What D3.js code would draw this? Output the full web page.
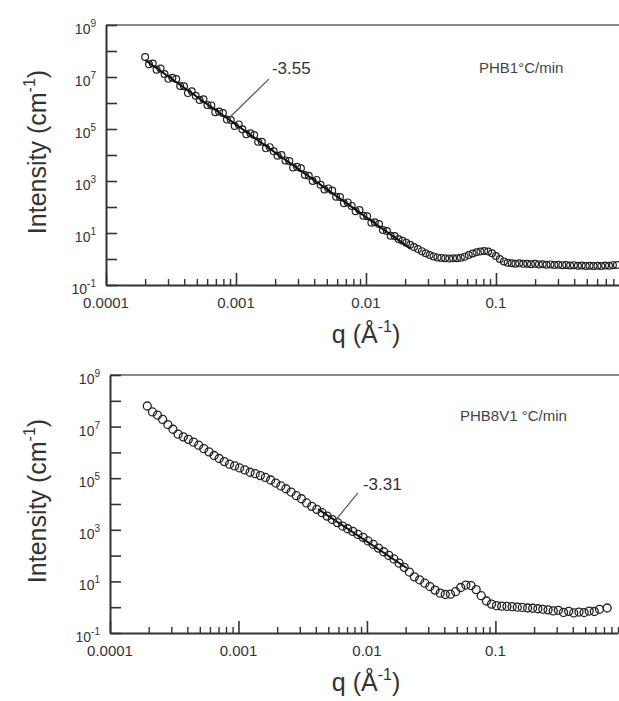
<!DOCTYPE html>
<html>
<head>
<meta charset="utf-8">
<script src="https://cdn.jsdelivr.net/npm/d3@7"></script>
<style>
  body { margin: 0; background: #fff; }
  svg { display: block; }
  text { font-family: "Liberation Sans", Arial, sans-serif; fill: #333; }
</style>
</head>
<body>
<div id="chart"></div>
<script>
// PHB 1°C/min (top panel)
const qTop = [
  0.000200, 0.000214, 0.000229, 0.000245, 0.000263, 0.000282, 0.000302, 0.000324, 0.000347, 0.000372,
  0.000398, 0.000427, 0.000457, 0.000490, 0.000525, 0.000562, 0.000603, 0.000646, 0.000692, 0.000741,
  0.000794, 0.000851, 0.000912, 0.000977, 0.00105, 0.00112, 0.00120, 0.00129, 0.00138, 0.00148,
  0.00158, 0.00170, 0.00182, 0.00195, 0.00209, 0.00224, 0.00240, 0.00257, 0.00275, 0.00295,
  0.00316, 0.00339, 0.00363, 0.00389, 0.00417, 0.00447, 0.00479, 0.00513, 0.00550, 0.00589,
  0.00631, 0.00676, 0.00724, 0.00776, 0.00832, 0.00891, 0.00955, 0.0102, 0.0110, 0.0117,
  0.0126, 0.0135, 0.0145, 0.0155, 0.0166, 0.0178, 0.0191, 0.0204, 0.0219, 0.0234,
  0.0251, 0.0269, 0.0288, 0.0309, 0.0331, 0.0355, 0.0380, 0.0407, 0.0437, 0.0468,
  0.0501, 0.0537, 0.0575, 0.0617, 0.0661, 0.0708, 0.0759, 0.0813, 0.0871, 0.0933,
  0.100, 0.107, 0.115, 0.123, 0.132, 0.141, 0.151, 0.162, 0.174, 0.186,
  0.200, 0.214, 0.229, 0.245, 0.263, 0.282, 0.302, 0.324, 0.347, 0.372,
  0.398, 0.427, 0.457, 0.490, 0.525, 0.562, 0.603, 0.646, 0.692, 0.741,
  0.794, 0.851
];
const iTop = [
  5.9e7, 3.1e7, 3.3e7, 1.9e7, 2.1e7, 1.3e7, 8.5e6, 9.3e6, 8.3e6, 4.5e6,
  4.4e6, 2.4e6, 2.8e6, 1.9e6, 1.3e6, 1.4e6, 8.3e5, 8.1e5, 4.4e5, 4.7e5,
  4.1e5, 2.3e5, 2.2e5, 1.3e5, 1.5e5, 9.8e4, 6.3e4, 6.9e4, 5.9e4, 3.2e4,
  3.2e4, 1.8e4, 2.0e4, 1.4e4, 9.3e3, 1.0e4, 6.2e3, 5.9e3, 3.3e3, 3.5e3,
  3.1e3, 1.7e3, 1.6e3, 1.0e3, 1.1e3, 720, 470, 520, 430, 250,
  240, 140, 150, 110, 69, 76, 46, 44, 25, 26,
  22, 13, 12, 7.9, 7.6, 5.9, 5.0, 4.2, 3.5, 2.9,
  2.4, 2.0, 1.66, 1.41, 1.26, 1.15, 1.10, 1.07, 1.05, 1.07,
  1.07, 1.12, 1.23, 1.41, 1.62, 1.82, 1.95, 2.04, 1.95, 1.66,
  1.29, 1.00, 0.81, 0.72, 0.69, 0.66, 0.68, 0.65, 0.66, 0.63,
  0.65, 0.62, 0.63, 0.60, 0.62, 0.59, 0.60, 0.58, 0.59, 0.56,
  0.58, 0.55, 0.56, 0.54, 0.55, 0.54, 0.55, 0.54, 0.56, 0.55,
  0.58, 0.59
];

// PHB8V 1°C/min (bottom panel)
const qBot = [
  0.000195, 0.000214, 0.000234, 0.000257, 0.000282, 0.000309, 0.000339, 0.000372, 0.000407, 0.000447,
  0.000490, 0.000537, 0.000589, 0.000646, 0.000708, 0.000776, 0.000851, 0.000933, 0.00102, 0.00112,
  0.00123, 0.00135, 0.00148, 0.00162, 0.00178, 0.00195, 0.00214, 0.00234, 0.00257, 0.00282,
  0.00309, 0.00339, 0.00372, 0.00407, 0.00447, 0.00490, 0.00537, 0.00589, 0.00646, 0.00708,
  0.00776, 0.00851, 0.00933, 0.0102, 0.0112, 0.0123, 0.0135, 0.0148, 0.0162, 0.0178,
  0.0195, 0.0214, 0.0234, 0.0257, 0.0282, 0.0309, 0.0339, 0.0372, 0.0407, 0.0447,
  0.0490, 0.0537, 0.0589, 0.0646, 0.0708, 0.0776, 0.0851, 0.0933, 0.102, 0.112,
  0.123, 0.135, 0.148, 0.162, 0.178, 0.195, 0.214, 0.234, 0.257, 0.282,
  0.309, 0.339, 0.372, 0.407, 0.447, 0.490, 0.537, 0.589, 0.646, 0.741
];
const iBot = [
  6.3e7, 3.7e7, 2.8e7, 1.9e7, 1.2e7, 7.9e6, 5.1e6, 4.0e6, 3.2e6, 2.5e6,
  1.9e6, 1.4e6, 1.05e6, 7.6e5, 5.8e5, 4.4e5, 3.5e5, 3.0e5, 2.5e5, 2.1e5,
  1.7e5, 1.5e5, 1.26e5, 1.07e5, 8.5e4, 6.5e4, 5.0e4, 3.9e4, 2.9e4, 2.1e4,
  1.6e4, 1.1e4, 8.1e3, 6.2e3, 4.6e3, 3.4e3, 2.5e3, 1.9e3, 1.4e3, 1.1e3,
  870, 660, 510, 370, 270, 195, 141, 102, 74, 51,
  35, 23, 15, 11.5, 8.5, 6.3, 4.6, 3.5, 3.1, 3.2,
  4.0, 5.8, 7.2, 6.9, 4.8, 2.8, 1.74, 1.32, 1.15, 1.10,
  1.07, 1.05, 1.00, 0.98, 0.93, 0.91, 0.87, 0.83, 0.79, 0.72,
  0.76, 0.63, 0.69, 0.60, 0.65, 0.62, 0.71, 0.68, 0.83, 0.93
];

// power-law fits [q, I] at both ends
const fitTop = [[0.0002, 4.5e7], [0.022, 2.5]];
const fitBot = [[0.00417, 6.3e3], [0.0204, 33]];

const slopeLabels = ["-3.55", "-3.31"];
const sampleLabels = ["PHB1°C/min", "PHB8V1 °C/min"];

const yTickExps = [-1, 0, 1, 2, 3, 4, 5, 6, 7, 8, 9];
const yLabelExps = [-1, 1, 3, 5, 7, 9];
const xMajor = [1e-4, 1e-3, 1e-2, 1e-1];
const xLabels = ["0.0001", "0.001", "0.01", "0.1"];

const svg = d3.select("#chart").append("svg")
    .attr("width", 619)
    .attr("height", 701);

const panels = [
  { left: 106, right: 620, top: 25, bottom: 285, r: 3.4, sw: 1.2, q: qTop, I: iTop, fit: fitTop,
    slope: slopeLabels[0], sample: sampleLabels[0], samplePos: [479, 73],
    ann: { text: [0.00189, 1.3e7], from: [0.00179, 8.3e6], to: [0.0009, 2.9e5] } },
  { left: 110, right: 618, top: 375, bottom: 633, r: 4, sw: 1.3, q: qBot, I: iBot, fit: fitBot,
    slope: slopeLabels[1], sample: sampleLabels[1], samplePos: [460, 421],
    ann: { text: [0.00931, 3.5e4], from: [0.00851, 2.7e4], to: [0.00564, 2.2e3] } }
];

panels.forEach(p => {
  const x = d3.scaleLog().domain([1e-4, 0.9]).range([p.left, p.right]);
  const y = d3.scaleLog().domain([0.1, 1e9]).range([p.bottom, p.top]);
  const g = svg.append("g");

  // top frame
  g.append("line")
    .attr("x1", p.left).attr("x2", 619)
    .attr("y1", y(1e9)).attr("y2", y(1e9))
    .attr("stroke", "#888").attr("stroke-width", 2);

  // y axis, inward ticks
  const ya = g.append("g")
    .attr("transform", `translate(${p.left},0)`)
    .call(d3.axisLeft(y).tickValues(yTickExps.map(e => Math.pow(10, e)))
      .tickSize(-11).tickSizeOuter(0).tickFormat(""));
  ya.select(".domain").attr("stroke", "#333").attr("stroke-width", 2);
  ya.selectAll(".tick line").attr("stroke", "#333").attr("stroke-width", 1.6);

  g.append("g").selectAll("text")
    .data(yLabelExps)
    .join("text")
    .attr("x", p.left - 10)
    .attr("y", d => y(Math.pow(10, d)) + 9)
    .attr("text-anchor", "end")
    .style("font-size", "14px")
    .each(function(d) {
      const t = d3.select(this);
      t.append("tspan").text("10");
      t.append("tspan").attr("dy", -7).style("font-size", "10px").text(d);
    });

  // x axis: major + minor ticks
  const xa = g.append("g")
    .attr("transform", `translate(0,${p.bottom})`)
    .call(d3.axisBottom(x).tickValues(xMajor).tickSize(-12).tickSizeOuter(0).tickFormat(""));
  xa.select(".domain").attr("stroke", "#333").attr("stroke-width", 2);
  xa.selectAll(".tick line").attr("stroke", "#333").attr("stroke-width", 1.6);

  const minor = x.ticks().filter(v => !xMajor.some(m => Math.abs(m - v) / m < 1e-6));
  const xm = g.append("g")
    .attr("transform", `translate(0,${p.bottom})`)
    .call(d3.axisBottom(x).tickValues(minor).tickSize(-6).tickSizeOuter(0).tickFormat(""));
  xm.select(".domain").remove();
  xm.selectAll(".tick line").attr("stroke", "#333").attr("stroke-width", 1.4);

  g.append("g").selectAll("text")
    .data(xMajor)
    .join("text")
    .attr("x", d => x(d))
    .attr("y", p.bottom + 23)
    .attr("text-anchor", "middle")
    .style("font-size", "15px")
    .text((d, i) => xLabels[i]);

  // data points
  g.append("g").selectAll("circle")
    .data(d3.zip(p.q, p.I))
    .join("circle")
    .attr("cx", d => x(d[0]))
    .attr("cy", d => y(d[1]))
    .attr("r", p.r)
    .attr("fill", "none")
    .attr("stroke", "#222")
    .attr("stroke-width", p.sw);

  // fit line
  g.append("path")
    .attr("d", d3.line().x(d => x(d[0])).y(d => y(d[1]))(p.fit))
    .attr("fill", "none")
    .attr("stroke", "#111")
    .attr("stroke-width", 2);

  // slope annotation
  g.append("line")
    .attr("x1", x(p.ann.from[0])).attr("y1", y(p.ann.from[1]))
    .attr("x2", x(p.ann.to[0])).attr("y2", y(p.ann.to[1]))
    .attr("stroke", "#555").attr("stroke-width", 1.2);
  g.append("text")
    .attr("x", x(p.ann.text[0]))
    .attr("y", y(p.ann.text[1]))
    .style("font-size", "17px")
    .text(p.slope);

  g.append("text")
    .attr("x", p.samplePos[0])
    .attr("y", p.samplePos[1])
    .style("font-size", "15px")
    .style("fill", "#444")
    .text(p.sample);

  // axis titles
  const yt = g.append("text")
    .attr("transform", `translate(46,${(p.top + p.bottom) / 2 - 3}) rotate(-90)`)
    .attr("text-anchor", "middle")
    .style("font-size", "25px");
  yt.append("tspan").text("Intensity (cm");
  yt.append("tspan").attr("dy", -11).style("font-size", "16px").text("-1");
  yt.append("tspan").attr("dy", 11).text(")");

  const xt = g.append("text")
    .attr("x", 366)
    .attr("y", p.bottom + 58)
    .attr("text-anchor", "middle")
    .style("font-size", "25px");
  xt.append("tspan").text("q (Å");
  xt.append("tspan").attr("dy", -11).style("font-size", "16px").text("-1");
  xt.append("tspan").attr("dy", 11).text(")");
});
</script>
</body>
</html>
